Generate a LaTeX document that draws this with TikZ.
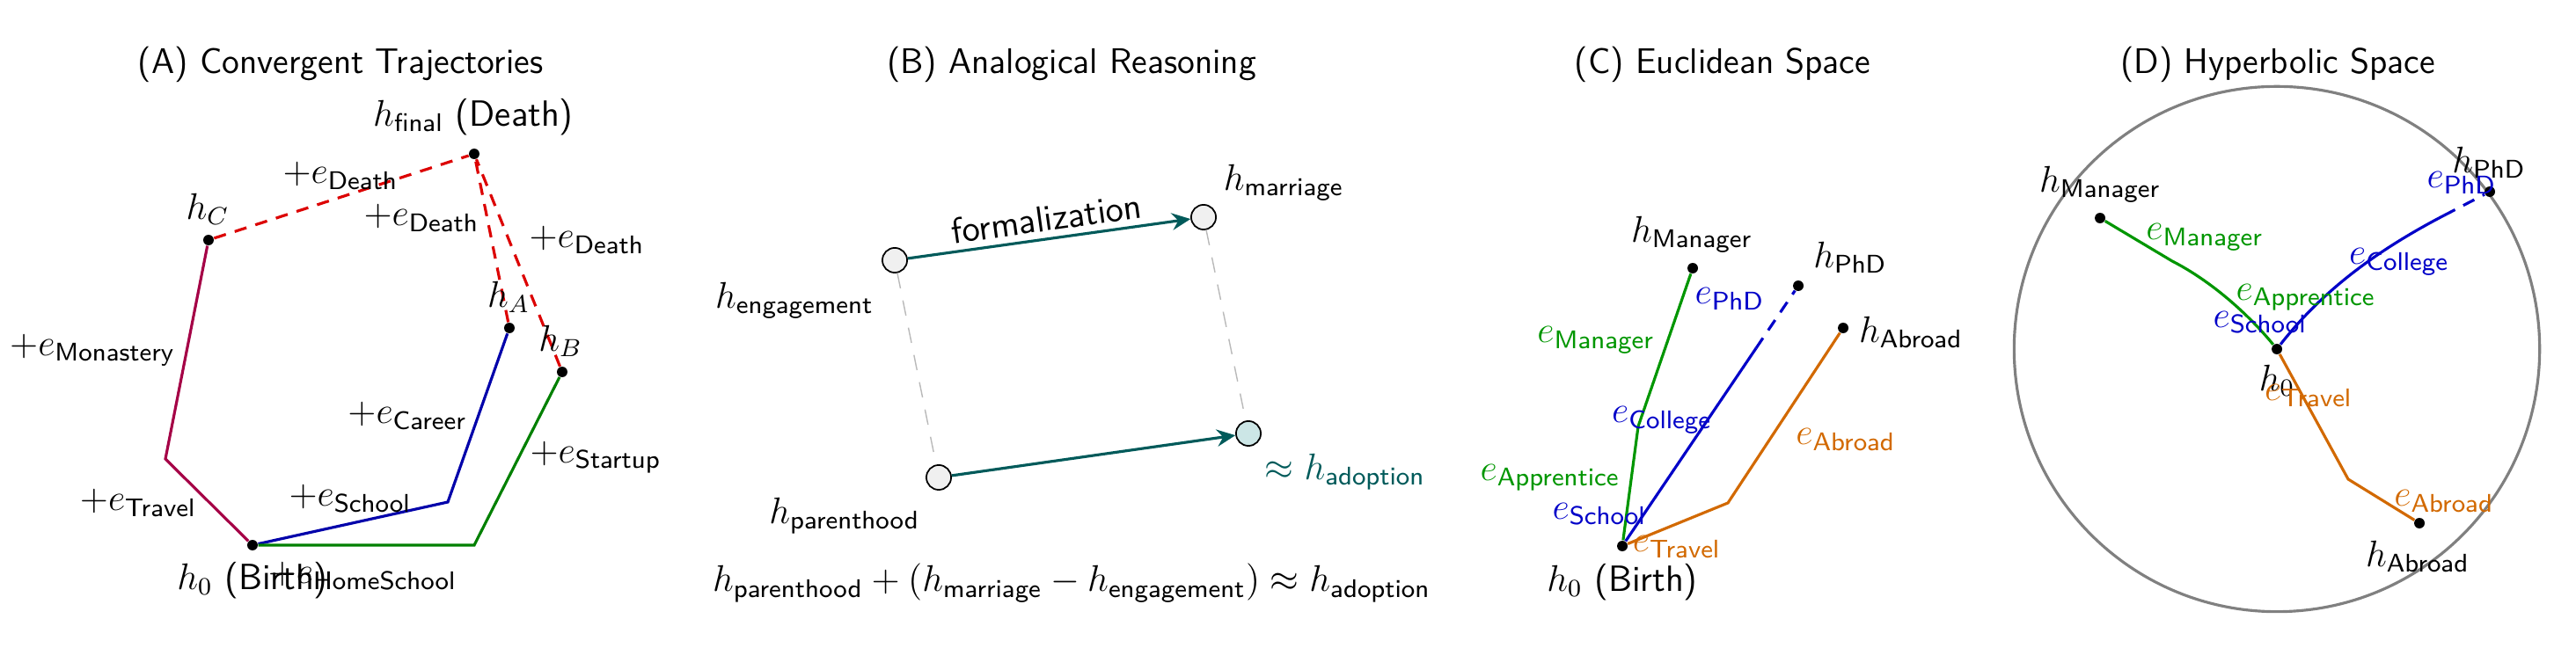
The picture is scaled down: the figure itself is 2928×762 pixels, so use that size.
\documentclass[tikz,border=0pt]{standalone}
\usepackage{amsmath}
\usetikzlibrary{arrows.meta,calc}
\definecolor{cpurple}{RGB}{165,0,70}
\definecolor{cblueA}{RGB}{0,0,170}
\definecolor{cgreenA}{RGB}{0,128,0}
\definecolor{cred}{RGB}{220,0,0}
\definecolor{cteal}{RGB}{0,90,90}
\definecolor{cadopt}{RGB}{204,230,230}
\definecolor{cgreen}{RGB}{0,150,0}
\definecolor{cblue}{RGB}{0,0,200}
\definecolor{corange}{RGB}{210,105,0}
\begin{document}
\begin{tikzpicture}[x=0.01cm,y=-0.01cm,
  every node/.style={font=\sffamily},
  ttl/.style={font=\sffamily\fontsize{11.5}{14}\selectfont,inner sep=0pt},
  lab/.style={font=\sffamily\fontsize{11.8}{14}\selectfont,inner sep=0pt},
  dot/.style={circle,fill=black,inner sep=0pt,minimum size=3.4pt},
  bcirc/.style={circle,draw=black,line width=0.5pt,fill=gray!12,inner sep=0pt,minimum size=8pt},
  path/.style={line width=0.9pt},
  reddash/.style={cred,line width=0.9pt,dash pattern=on 4pt off 3pt},
  guide/.style={gray!55,line width=0.4pt,dash pattern=on 5pt off 4pt},
  tealarrow/.style={cteal,line width=0.9pt,-{Stealth[length=6pt,width=5.5pt,inset=2pt]}},
  bluedash/.style={cblue,line width=0.9pt,dash pattern=on 4pt off 3pt}
]
\useasboundingbox (0,0) rectangle (2928,762);

% ---------------- Panel A ----------------
\node[ttl] (tA) at (387,73) {(A) Convergent Trajectories};
\node[dot] (hf) at (539,175) {};
\node[dot] (hC) at (237,273) {};
\node[dot] (hA) at (579,373) {};
\node[dot] (hB) at (639,423) {};
\node[dot] (h0A) at (287,620) {};
\coordinate (cM) at (188,522);
\coordinate (cS) at (509,571);
\coordinate (cH) at (539,620);
\draw[path,cpurple] (h0A) -- (cM) -- (hC);
\draw[path,cblueA] (h0A) -- (cS) -- (hA);
\draw[path,cgreenA] (h0A) -- (cH) -- (hB);
\draw[reddash] (hC) -- (hf);
\draw[reddash] (hA) -- (hf);
\draw[reddash] (hB) -- (hf);
\node[lab] (lhf) at (538,133) {$h_{\text{final}}$ (Death)};
\node[lab] (lhC) at (236,238) {$h_C$};
\node[lab] (lhA) at (578,338) {$h_A$};
\node[lab] (lhB) at (637,388) {$h_B$};
\node[lab] (lh0A) at (287,660) {$h_0$ (Birth)};
\node[lab] (eD1) at (387,200) {$+e_{\text{Death}}$};
\node[lab] (eD2) at (479,248) {$+e_{\text{Death}}$};
\node[lab] (eD3) at (667,273) {$+e_{\text{Death}}$};
\node[lab] (eMo) at (105,398) {$+e_{\text{Monastery}}$};
\node[lab] (eTr) at (157,572) {$+e_{\text{Travel}}$};
\node[lab] (eSc) at (398,567) {$+e_{\text{School}}$};
\node[lab] (eCa) at (463,473) {$+e_{\text{Career}}$};
\node[lab] (eSt) at (677,520) {$+e_{\text{Startup}}$};
\node[lab] (eHS) at (412,655) {$+e_{\text{HomeSchool}}$};

% ---------------- Panel B ----------------
\node[ttl] (tB) at (1218,73) {(B) Analogical Reasoning};
\node[bcirc] (eng) at (1017,296) {};
\node[bcirc] (mar) at (1368,247) {};
\node[bcirc] (par) at (1067,543) {};
\node[bcirc,fill=cadopt] (ado) at (1419,493) {};
\draw[guide] (eng) -- (par);
\draw[guide] (mar) -- (ado);
\draw[tealarrow] (eng) -- node[lab,text=black,midway,above=2pt,sloped] {formalization} (mar);
\draw[tealarrow] (par) -- (ado);
\node[lab] (leng) at (903,342) {$h_{\text{engagement}}$};
\node[lab] (lmar) at (1459,208) {$h_{\text{marriage}}$};
\node[lab] (lpar) at (960,587) {$h_{\text{parenthood}}$};
\node[lab,text=cteal] (lado) at (1529,537) {$\approx h_{\text{adoption}}$};
\node[lab] (eq) at (1218,663) {$h_{\text{parenthood}} + (h_{\text{marriage}} - h_{\text{engagement}}) \approx h_{\text{adoption}}$};

% ---------------- Panel C ----------------
\node[ttl] (tC) at (1958,73) {(C) Euclidean Space};
\node[dot] (h0C) at (1844,621) {};
\node[dot] (manC) at (1924,305) {};
\node[dot] (phdC) at (2044,325) {};
\node[dot] (abrC) at (2095,373) {};
\coordinate (cgC) at (1862,485);
\coordinate (coC) at (1964,572);
\coordinate (cbC) at ($(h0C)!0.76!(phdC)$);
\draw[path,cgreen] (h0C) -- (cgC) -- (manC);
\draw[path,cblue] (h0C) -- (cbC);
\draw[bluedash] (cbC) -- (phdC);
\draw[path,corange] (h0C) -- (coC) -- (abrC);
\node[lab] (lh0C) at (1844,662) {$h_0$ (Birth)};
\node[lab] (lmanC) at (1923,267) {$h_{\text{Manager}}$};
\node[lab] (lphdC) at (2103,293) {$h_{\text{PhD}}$};
\node[lab] (labrC) at (2172,378) {$h_{\text{Abroad}}$};
\node[lab,text=cblue] (ePhC) at (1966,340) {$e_{\text{PhD}}$};
\node[lab,text=cgreen] (eMaC) at (1814,387) {$e_{\text{Manager}}$};
\node[lab,text=cblue] (eCoC) at (1889,478) {$e_{\text{College}}$};
\node[lab,text=corange] (eAbC) at (2098,500) {$e_{\text{Abroad}}$};
\node[lab,text=cgreen] (eApC) at (1762,543) {$e_{\text{Apprentice}}$};
\node[lab,text=cblue] (eScC) at (1818,585) {$e_{\text{School}}$};
\node[lab,text=corange] (eTrC) at (1906,622) {$e_{\text{Travel}}$};

% ---------------- Panel D ----------------
\node[ttl] (tD) at (2589,73) {(D) Hyperbolic Space};
\node[circle,draw=gray,line width=0.9pt,inner sep=0pt,minimum size=5.97cm] (disk) at (2588,397) {};
\node[dot] (h0D) at (2588,397) {};
\node[dot] (manD) at (2387,248) {};
\node[dot] (phdD) at (2830,218) {};
\node[dot] (abrD) at (2750,595) {};
\coordinate (cgD) at (2469,297);
\coordinate (cbD) at (2778,245);
\coordinate (coD) at (2669,545);
\draw[path,cgreen] (h0D) .. controls (2556,358) and (2514,320) .. (cgD) -- (manD);
\draw[path,cblue] (h0D) .. controls (2640,330) and (2703,284) .. (cbD);
\draw[bluedash] (cbD) -- (phdD);
\draw[path,corange] (h0D) -- (coD) -- (abrD);
\node[lab] (lh0D) at (2588,433) {$h_0$};
\node[lab] (lmanD) at (2387,210) {$h_{\text{Manager}}$};
\node[lab] (lphdD) at (2829,185) {$h_{\text{PhD}}$};
\node[lab] (labrD) at (2748,633) {$h_{\text{Abroad}}$};
\node[lab,text=cgreen] (eMaD) at (2506,270) {$e_{\text{Manager}}$};
\node[lab,text=cblue] (eCoD) at (2727,298) {$e_{\text{College}}$};
\node[lab,text=cgreen] (eApD) at (2621,338) {$e_{\text{Apprentice}}$};
\node[lab,text=cblue] (eScD) at (2569,367) {$e_{\text{School}}$};
\node[lab,text=cblue] (ePhD) at (2798,208) {$e_{\text{PhD}}$};
\node[lab,text=corange] (eTrD) at (2624,450) {$e_{\text{Travel}}$};
\node[lab,text=corange] (eAbD) at (2778,570) {$e_{\text{Abroad}}$};
\end{tikzpicture}
\end{document}
